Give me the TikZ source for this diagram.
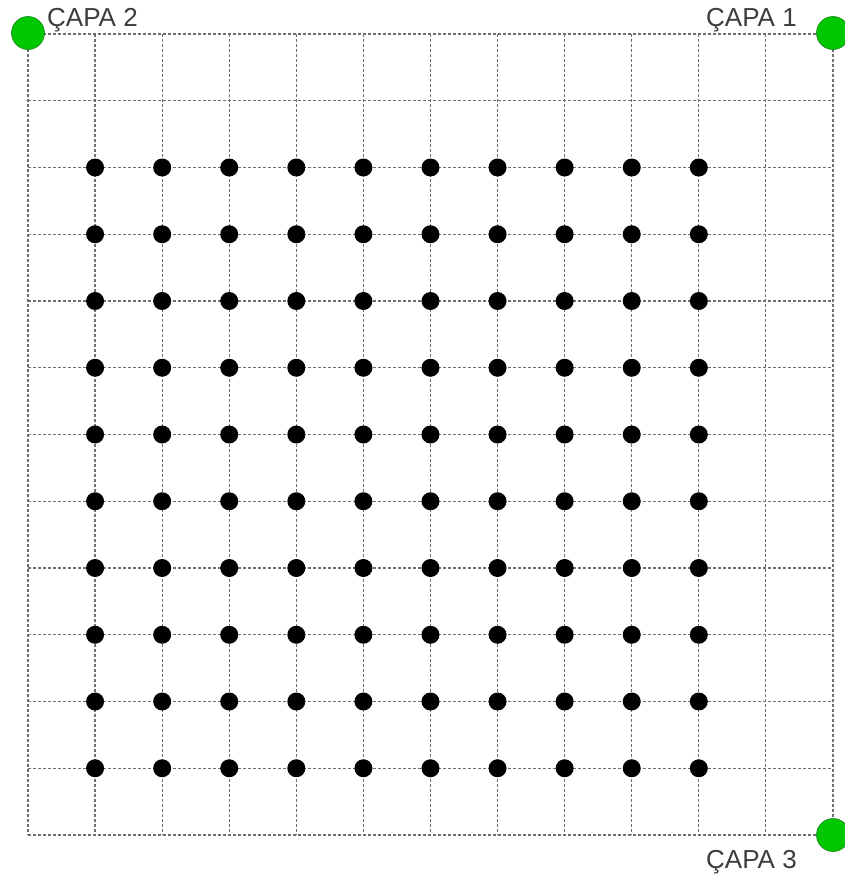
\documentclass[tikz,border=0pt]{standalone}
\usepackage{fontspec}
\setmainfont{Liberation Sans}
\definecolor{gridgray}{RGB}{110,110,110}
\definecolor{anchorgreen}{RGB}{0,200,0}
\definecolor{anchoredge}{RGB}{20,130,20}
\definecolor{labelgray}{RGB}{60,60,60}
\tikzset{
  gridline/.style={draw=gridgray, line width=1.2pt, dash pattern=on 2.5pt off 2.5pt},
  dotnode/.style={circle, fill=black, inner sep=0pt, minimum size=18pt},
  anchornode/.style={circle, fill=anchorgreen, draw=anchoredge, line width=0.6pt, inner sep=0pt, minimum size=33pt},
  capalabel/.style={inner sep=0pt, anchor=base west, text=labelgray, font=\fontsize{26pt}{26pt}\selectfont}
}
\begin{document}
\begin{tikzpicture}[x=1pt, y=-1pt]
\useasboundingbox (0,0) rectangle (844,876);
\fill[white] (0,0) rectangle (844,876);
% grid
\foreach \i in {0,...,12} {
  \draw[gridline] ({28+67.08*\i},34) -- ({28+67.08*\i},835);
  \draw[gridline] (28,{34+66.75*\i}) -- (833,{34+66.75*\i});
}
% dots
\foreach \i in {1,...,10} {
  \foreach \j in {2,...,11} {
    \node[dotnode] (d-\i-\j) at ({28+67.08*\i},{34+66.75*\j}) {};
  }
}
% anchors
\node[anchornode] (capa2) at (28,33) {};
\node[anchornode] (capa1) at (833,33) {};
\node[anchornode] (capa3) at (833,835) {};
% labels
\node[capalabel] (l2) at (47,26) {ÇAPA 2};
\node[capalabel] (l1) at (706,26) {ÇAPA 1};
\node[capalabel] (l3) at (706,868) {ÇAPA 3};
\end{tikzpicture}
\end{document}
